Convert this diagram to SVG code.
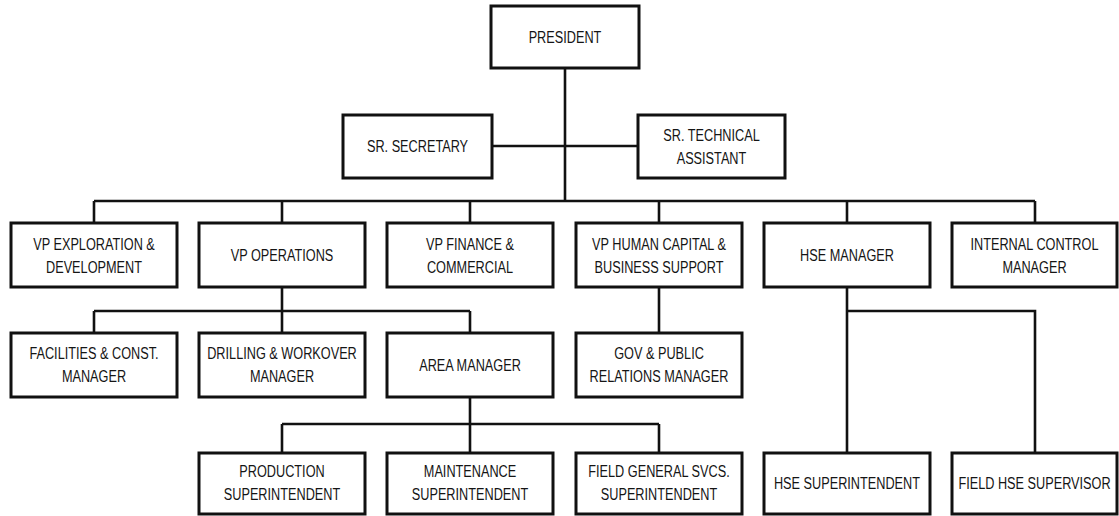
<svg xmlns="http://www.w3.org/2000/svg" width="1119" height="516" viewBox="0 0 1119 516">
<style>
.box{fill:#fff;stroke:#111;stroke-width:3}
.ln{fill:none;stroke:#111;stroke-width:2.6}
.t{font-family:"Liberation Sans",Arial,sans-serif;font-size:16.5px;fill:#151515;text-anchor:middle;transform:scaleX(0.77);transform-box:fill-box;transform-origin:center}
</style>
<rect width="1119" height="516" fill="#fff"/>
<g id="connectors">
<path class="ln" d="M565 68V201M492 146H638M94 201H1035M94 201V223M282 201V223M470 201V223M659 201V223M847 201V223M1035 201V223"/>
<path class="ln" d="M282 287V333M94 311H470M94 311V333M470 311V333M659 287V333"/>
<path class="ln" d="M847 287V453M847 311H1035V453"/>
<path class="ln" d="M470 397V453M282 424H659M282 424V453M659 424V453"/>
</g>
<g id="president"><rect class="box" x="491" y="6" width="148" height="62"/><text class="t" x="565" y="43">PRESIDENT</text></g>
<g id="sr-secretary"><rect class="box" x="343" y="115" width="149" height="63"/><text class="t" x="417.5" y="152.5">SR. SECRETARY</text></g>
<g id="sr-technical-assistant"><rect class="box" x="638" y="115" width="147" height="63"/><text class="t" x="711.5" y="141">SR. TECHNICAL</text><text class="t" x="711.5" y="164">ASSISTANT</text></g>
<g id="vp-exploration"><rect class="box" x="11" y="223" width="166" height="64"/><text class="t" x="94" y="250">VP EXPLORATION &amp;</text><text class="t" x="94" y="273">DEVELOPMENT</text></g>
<g id="vp-operations"><rect class="box" x="199" y="223" width="166" height="64"/><text class="t" x="282" y="261">VP OPERATIONS</text></g>
<g id="vp-finance"><rect class="box" x="387" y="223" width="166" height="64"/><text class="t" x="470" y="250">VP FINANCE &amp;</text><text class="t" x="470" y="273">COMMERCIAL</text></g>
<g id="vp-human-capital"><rect class="box" x="576" y="223" width="166" height="64"/><text class="t" x="659" y="250">VP HUMAN CAPITAL &amp;</text><text class="t" x="659" y="273">BUSINESS SUPPORT</text></g>
<g id="hse-manager"><rect class="box" x="764" y="223" width="166" height="64"/><text class="t" x="847" y="261">HSE MANAGER</text></g>
<g id="internal-control"><rect class="box" x="952" y="223" width="165" height="64"/><text class="t" x="1034.5" y="250">INTERNAL CONTROL</text><text class="t" x="1034.5" y="273">MANAGER</text></g>
<g id="facilities"><rect class="box" x="11" y="333" width="166" height="64"/><text class="t" x="94" y="359">FACILITIES &amp; CONST.</text><text class="t" x="94" y="382">MANAGER</text></g>
<g id="drilling"><rect class="box" x="199" y="333" width="166" height="64"/><text class="t" x="282" y="359">DRILLING &amp; WORKOVER</text><text class="t" x="282" y="382">MANAGER</text></g>
<g id="area-manager"><rect class="box" x="387" y="333" width="166" height="64"/><text class="t" x="470" y="371">AREA MANAGER</text></g>
<g id="gov-public-relations"><rect class="box" x="576" y="333" width="166" height="64"/><text class="t" x="659" y="359">GOV &amp; PUBLIC</text><text class="t" x="659" y="382">RELATIONS MANAGER</text></g>
<g id="production"><rect class="box" x="199" y="453" width="166" height="61"/><text class="t" x="282" y="477.5">PRODUCTION</text><text class="t" x="282" y="500.5">SUPERINTENDENT</text></g>
<g id="maintenance"><rect class="box" x="387" y="453" width="166" height="61"/><text class="t" x="470" y="477.5">MAINTENANCE</text><text class="t" x="470" y="500.5">SUPERINTENDENT</text></g>
<g id="field-general-svcs"><rect class="box" x="576" y="453" width="166" height="61"/><text class="t" x="659" y="477.5">FIELD GENERAL SVCS.</text><text class="t" x="659" y="500.5">SUPERINTENDENT</text></g>
<g id="hse-superintendent"><rect class="box" x="764" y="453" width="166" height="61"/><text class="t" x="847" y="489.5">HSE SUPERINTENDENT</text></g>
<g id="field-hse-supervisor"><rect class="box" x="952" y="453" width="165" height="61"/><text class="t" x="1034.5" y="489.5">FIELD HSE SUPERVISOR</text></g>
</svg>
